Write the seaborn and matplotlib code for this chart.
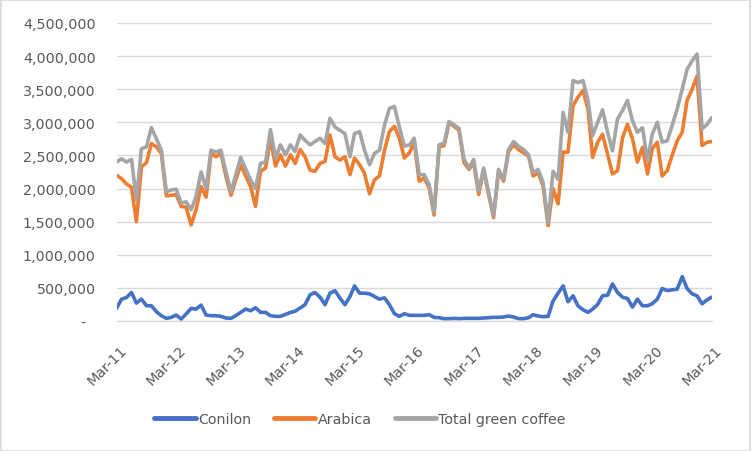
import numpy as np
import pandas as pd
import matplotlib
matplotlib.use("Agg")
import matplotlib.pyplot as plt
import matplotlib.transforms as mtransforms
import matplotlib.dates as mdates
import seaborn as sns

# ---------------- data (bags, monthly Mar-2011 .. Mar-2021) ----------------
months = pd.date_range("2011-03-01", "2021-03-01", freq="MS")

conilon = [0.19, 0.33, 0.355, 0.43, 0.27, 0.33, 0.23, 0.23, 0.14, 0.08,
           0.04, 0.055, 0.09, 0.03, 0.105, 0.19, 0.18, 0.24, 0.09, 0.08,
           0.08, 0.07, 0.045, 0.04, 0.08, 0.13, 0.18, 0.155, 0.20, 0.13,
           0.13, 0.08, 0.07, 0.07, 0.10, 0.13, 0.146, 0.196, 0.246, 0.397,
           0.43, 0.36, 0.246, 0.42, 0.457, 0.347, 0.246, 0.37, 0.53, 0.42,
           0.42, 0.41, 0.37, 0.33, 0.35, 0.246, 0.11, 0.07, 0.11, 0.085,
           0.085, 0.085, 0.085, 0.095, 0.055, 0.05, 0.035, 0.035, 0.04, 0.035,
           0.04, 0.04, 0.04, 0.04, 0.045, 0.05, 0.055, 0.055, 0.06, 0.075,
           0.06, 0.035, 0.035, 0.05, 0.095, 0.075, 0.065, 0.07, 0.30, 0.42,
           0.53, 0.29, 0.38, 0.23, 0.17, 0.13, 0.18, 0.25, 0.38, 0.39,
           0.56, 0.43, 0.36, 0.34, 0.21, 0.33, 0.23, 0.23, 0.26, 0.33,
           0.49, 0.46, 0.47, 0.48, 0.67, 0.49, 0.41, 0.38, 0.26, 0.32,
           0.36]

arabica = [2.20, 2.15, 2.07, 2.02, 1.50, 2.33, 2.39, 2.68, 2.63, 2.53,
           1.89, 1.90, 1.91, 1.73, 1.72, 1.45, 1.68, 2.03, 1.87, 2.53,
           2.48, 2.53, 2.18, 1.90, 2.13, 2.35, 2.20, 2.03, 1.73, 2.26,
           2.31, 2.75, 2.34, 2.51, 2.34, 2.51, 2.38, 2.59, 2.48, 2.28,
           2.26, 2.38, 2.41, 2.81, 2.48, 2.43, 2.48, 2.21, 2.46, 2.36,
           2.23, 1.92, 2.13, 2.19, 2.58, 2.86, 2.94, 2.76, 2.46, 2.54,
           2.71, 2.11, 2.16, 2.01, 1.60, 2.63, 2.65, 2.99, 2.94, 2.88,
           2.39, 2.29, 2.39, 1.91, 2.29, 1.91, 1.56, 2.26, 2.11, 2.56,
           2.66, 2.59, 2.54, 2.49, 2.19, 2.24, 2.04, 1.44, 2.00, 1.77,
           2.55, 2.55, 3.25, 3.38, 3.48, 3.20, 2.47, 2.70, 2.82, 2.52,
           2.22, 2.27, 2.77, 2.97, 2.75, 2.40, 2.62, 2.22, 2.60, 2.70,
           2.19, 2.27, 2.50, 2.72, 2.85, 3.33, 3.50, 3.70, 2.65, 2.70,
           2.71]

total = [2.40, 2.45, 2.40, 2.44, 1.83, 2.60, 2.63, 2.92, 2.75, 2.58,
         1.95, 1.98, 1.99, 1.78, 1.80, 1.68, 1.88, 2.25, 2.00, 2.58,
         2.55, 2.58, 2.25, 1.95, 2.20, 2.47, 2.30, 2.13, 2.00, 2.38,
         2.40, 2.89, 2.46, 2.66, 2.51, 2.66, 2.56, 2.81, 2.73, 2.66,
         2.71, 2.76, 2.68, 3.06, 2.93, 2.88, 2.83, 2.48, 2.83, 2.86,
         2.58, 2.36, 2.53, 2.58, 2.96, 3.21, 3.24, 2.93, 2.64, 2.66,
         2.76, 2.21, 2.21, 2.06, 1.64, 2.66, 2.69, 3.01, 2.96, 2.91,
         2.44, 2.31, 2.44, 1.96, 2.31, 1.94, 1.59, 2.29, 2.14, 2.59,
         2.71, 2.64, 2.59, 2.51, 2.24, 2.29, 2.09, 1.49, 2.26, 2.14,
         3.15, 2.85, 3.63, 3.60, 3.63, 3.33, 2.80, 3.00, 3.19, 2.85,
         2.57, 3.05, 3.18, 3.33, 3.02, 2.85, 2.92, 2.42, 2.82, 3.00,
         2.70, 2.72, 2.95, 3.20, 3.50, 3.80, 3.93, 4.03, 2.90, 2.97,
         3.07]

series_names = ["Conilon", "Arabica", "Total green coffee"]
series_colors = ["#4472C4", "#ED7D31", "#A5A5A5"]
x_tick_labels = ["Mar-11", "Mar-12", "Mar-13", "Mar-14", "Mar-15", "Mar-16",
                 "Mar-17", "Mar-18", "Mar-19", "Mar-20", "Mar-21"]
y_ticks = [0, 500000, 1000000, 1500000, 2000000, 2500000, 3000000,
           3500000, 4000000, 4500000]

# ---------------- build long table ----------------
frames = []
for name, vals in zip(series_names, [conilon, arabica, total]):
    frames.append(pd.DataFrame({"date": months,
                                "value": np.array(vals) * 1e6,
                                "series": name}))
df = pd.concat(frames, ignore_index=True)

# ---------------- plot ----------------
sns.set_theme(style="white")
plt.rcParams["font.family"] = ["DejaVu Sans"]

fig = plt.figure(figsize=(7.52, 4.52), dpi=100)
ax = fig.add_axes([116.5 / 752, 1 - 322 / 452, (711.7 - 116.5) / 752, (322 - 24) / 452])

sns.lineplot(data=df, x="date", y="value", hue="series",
             hue_order=series_names, palette=series_colors,
             linewidth=2.6, ax=ax, legend=True)

ax.set_ylim(0, 4500000)
ax.set_xlim(months[0], months[-1])
ax.set_xlabel("")
ax.set_ylabel("")

# gridlines
ax.set_yticks(y_ticks)
ax.yaxis.grid(True, color="#D9D9D9", linewidth=1.0)
ax.xaxis.grid(False)
ax.set_axisbelow(True)

ylabels = ["-"] + [f"{v:,.0f}" for v in y_ticks[1:]]
ax.set_yticklabels(ylabels)
ax.tick_params(axis="y", length=0, pad=15, labelsize=10.3, labelcolor="#595959")

# x ticks
tick_dates = [months[i] for i in range(0, len(months), 12)]
ax.set_xticks(tick_dates)
ax.set_xticklabels(x_tick_labels)
ax.tick_params(axis="x", length=5, width=1, color="#D9D9D9", pad=14,
               labelsize=10.3, labelcolor="#595959", direction="out")
offset = mtransforms.ScaledTranslation(8 / 100, 0, fig.dpi_scale_trans)
for lab in ax.get_xticklabels():
    lab.set_rotation(45)
    lab.set_ha("right")
    lab.set_va("center")
    lab.set_rotation_mode("anchor")
    lab.set_transform(lab.get_transform() + offset)

# shift "-" label left a bit (accounting format)
zl = ax.get_yticklabels()[0]
zl.set_transform(zl.get_transform() + mtransforms.ScaledTranslation(-10 / 100, 0, fig.dpi_scale_trans))

for s in ["top", "right", "left"]:
    ax.spines[s].set_visible(False)
ax.spines["bottom"].set_color("#D9D9D9")
ax.spines["bottom"].set_linewidth(1.0)

# legend
handles, labels = ax.get_legend_handles_labels()
ax.legend_.remove()
leg = fig.legend(handles, labels, loc="center", bbox_to_anchor=(360 / 752, 1 - 420 / 452),
                 ncol=3, frameon=False, fontsize=10.3, handlelength=2.9,
                 handletextpad=0.15, columnspacing=1.6)
for t in leg.get_texts():
    t.set_color("#595959")
for h in leg.legend_handles:
    h.set_linewidth(3.5)
    h.set_solid_capstyle("round")

# chart border
fig.patches.append(plt.Rectangle((0.001, 0.001), 0.997, 0.997, transform=fig.transFigure,
                                 fill=False, edgecolor="#D9D9D9", linewidth=1.2))

fig.savefig("out.png", dpi=100, facecolor="white")
